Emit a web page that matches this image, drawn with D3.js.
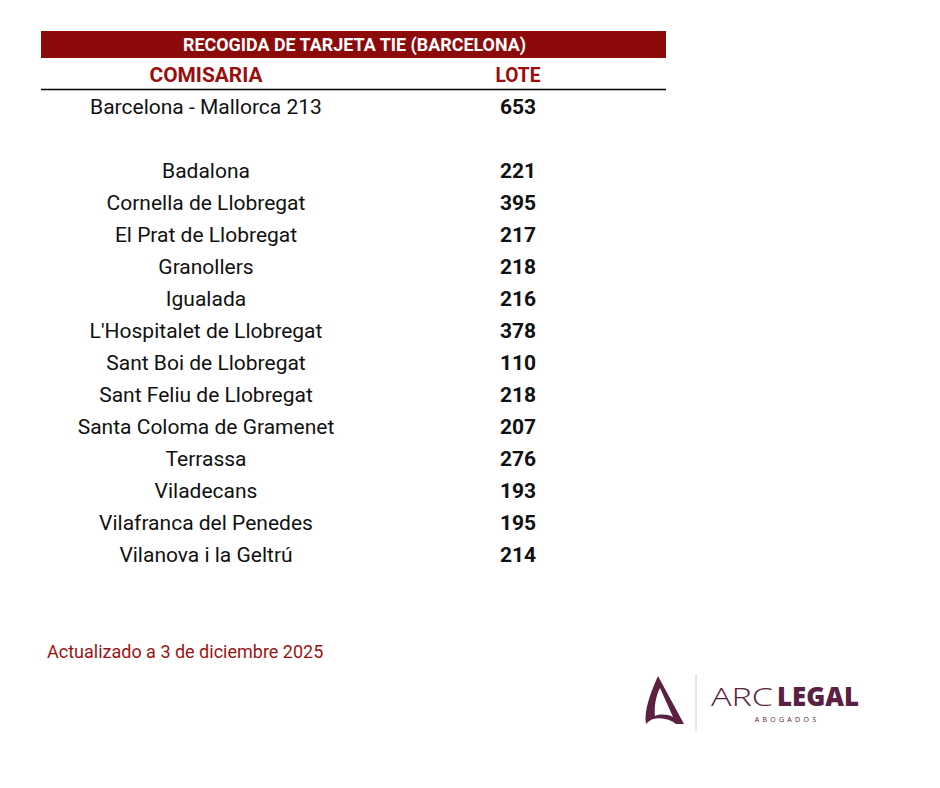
<!DOCTYPE html>
<html lang="es">

<head>
  <title>Recogida de tarjeta TIE (Barcelona)</title>
  <meta charset="UTF-8">
  <style>
    body {
      margin: 0;
      background: #fff;
    }
  </style>
</head>

<body>
  <div id="container"></div>
  <script src="https://cdn.jsdelivr.net/npm/d3@7"></script>
  <script>
    // table data
    const title = 'RECOGIDA DE TARJETA TIE (BARCELONA)';
    const headers = ['COMISARIA', 'LOTE'];
    const comisarias = ['Barcelona - Mallorca 213', '', 'Badalona', 'Cornella de Llobregat',
      'El Prat de Llobregat', 'Granollers', 'Igualada', "L'Hospitalet de Llobregat",
      'Sant Boi de Llobregat', 'Sant Feliu de Llobregat', 'Santa Coloma de Gramenet',
      'Terrassa', 'Viladecans', 'Vilafranca del Penedes', 'Vilanova i la Geltrú'];
    const lotes = [653, null, 221, 395, 217, 218, 216, 378, 110, 218, 207, 276, 193, 195, 214];
    const footnote = 'Actualizado a 3 de diciembre 2025';

    const width = 940, height = 788;
    const red = '#8c0a0a';
    const font = 'Roboto, "Noto Sans", sans-serif';

    const svg = d3.select('#container')
      .append('svg')
      .attr('width', width)
      .attr('height', height);

    // columns
    const col = d3.scalePoint()
      .domain(headers)
      .range([206, 518]);

    // rows
    const rows = d3.range(comisarias.length);
    const y = d3.scaleBand()
      .domain(rows)
      .range([90, 90 + 32 * rows.length]);

    // title bar
    svg.append('rect')
      .attr('x', 41).attr('y', 31)
      .attr('width', 625).attr('height', 27)
      .attr('fill', red);
    svg.append('text')
      .attr('x', 354.5).attr('y', 51)
      .attr('text-anchor', 'middle')
      .attr('font-family', font)
      .attr('font-weight', 'bold')
      .attr('font-size', 17.5)
      .attr('fill', '#fff')
      .attr('textLength', 343)
      .attr('lengthAdjust', 'spacingAndGlyphs')
      .text(title);

    // column headers
    svg.selectAll('.hdr')
      .data(headers)
      .join('text')
      .attr('class', 'hdr')
      .attr('x', d => col(d))
      .attr('y', 82)
      .attr('text-anchor', 'middle')
      .attr('font-family', font)
      .attr('font-weight', 'bold')
      .attr('font-size', 21)
      .attr('fill', '#9b0d0d')
      .attr('textLength', d => d === 'LOTE' ? 45 : 113)
      .attr('lengthAdjust', 'spacingAndGlyphs')
      .text(d => d);

    svg.append('line')
      .attr('x1', 41).attr('x2', 666)
      .attr('y1', 89.5).attr('y2', 89.5)
      .attr('stroke', '#000')
      .attr('stroke-width', 1.5);

    // body
    const row = svg.selectAll('.row')
      .data(rows)
      .join('g')
      .attr('class', 'row')
      .attr('transform', i => `translate(0,${y(i) + y.bandwidth() / 2})`);

    row.append('text')
      .attr('x', col('COMISARIA'))
      .attr('dy', '0.36em')
      .attr('text-anchor', 'middle')
      .attr('font-family', font)
      .attr('font-size', 21)
      .attr('fill', '#111')
      .text(i => comisarias[i]);

    row.append('text')
      .attr('x', col('LOTE'))
      .attr('dy', '0.36em')
      .attr('text-anchor', 'middle')
      .attr('font-family', font)
      .attr('font-weight', 'bold')
      .attr('font-size', 21)
      .attr('fill', '#111')
      .text(i => lotes[i] == null ? '' : lotes[i]);

    // footnote
    svg.append('text')
      .attr('x', 47).attr('y', 658)
      .attr('font-family', font)
      .attr('font-size', 18)
      .attr('fill', '#9b1414')
      .text(footnote);

    // logo
    const logoColor = '#5a2142';
    const logo = svg.append('g').attr('transform', 'translate(643,676)');
    logo.append('path')
      .attr('fill-rule', 'evenodd')
      .attr('d', 'M15,0 L41,48 L33,48 C27,43 18,41 10,43 C7,44 5,46 3,48 C1,36 6,20 15,0 Z ' +
        'M17,12 L30,41 C24,38 17,38 12,40 C11,30 13,20 17,12 Z')
      .attr('fill', logoColor);
    svg.append('line')
      .attr('x1', 696).attr('x2', 696)
      .attr('y1', 674).attr('y2', 731)
      .attr('stroke', '#ccc')
      .attr('stroke-width', 1);
    svg.append('text')
      .attr('x', 711).attr('y', 706)
      .attr('font-family', '"Open Sans", sans-serif')
      .attr('font-weight', 300)
      .attr('font-size', 26)
      .attr('fill', logoColor)
      .attr('textLength', 62)
      .attr('lengthAdjust', 'spacingAndGlyphs')
      .text('ARC');
    svg.append('text')
      .attr('x', 777).attr('y', 706)
      .attr('font-family', '"Open Sans", sans-serif')
      .attr('font-weight', 800)
      .attr('font-size', 26)
      .attr('fill', logoColor)
      .attr('textLength', 82)
      .attr('lengthAdjust', 'spacingAndGlyphs')
      .text('LEGAL');
    svg.append('text')
      .attr('x', 787).attr('y', 722)
      .attr('text-anchor', 'middle')
      .attr('font-family', '"Open Sans", sans-serif')
      .attr('font-size', 7)
      .attr('letter-spacing', 3.3)
      .attr('fill', logoColor)
      .text('ABOGADOS');
  </script>
</body>

</html>
